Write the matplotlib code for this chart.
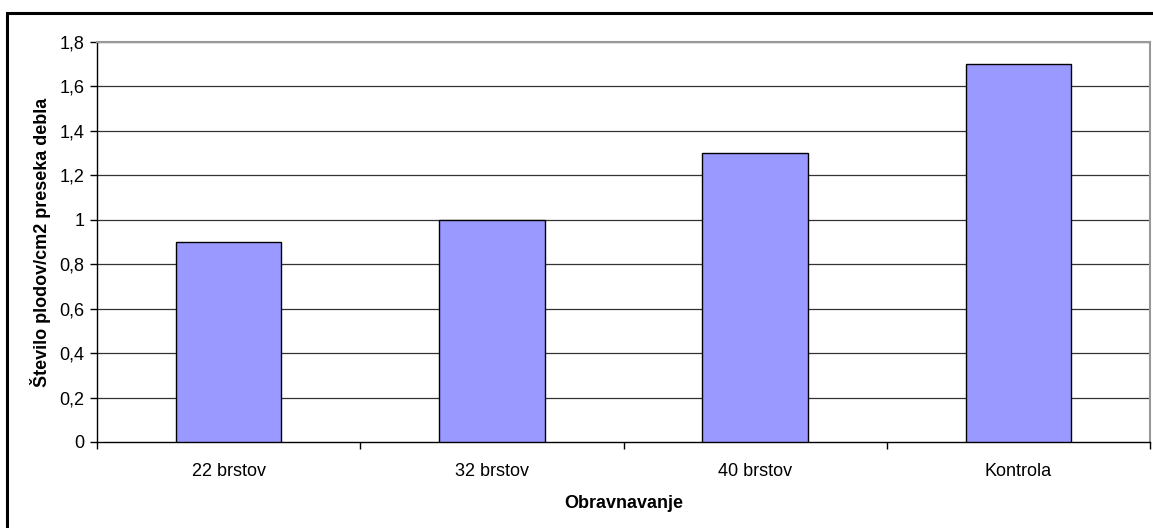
import numpy as np
import matplotlib.pyplot as plt
from matplotlib.patches import Rectangle

plt.rcParams['font.family'] = ['Liberation Sans', 'DejaVu Sans']

# Data
categories = ['22 brstov', '32 brstov', '40 brstov', 'Kontrola']
values = [0.9, 1.0, 1.3, 1.7]
yticks = [0, 0.2, 0.4, 0.6, 0.8, 1.0, 1.2, 1.4, 1.6, 1.8]
ytick_labels = ['0', '0,2', '0,4', '0,6', '0,8', '1', '1,2', '1,4', '1,6', '1,8']

W, H = 1153, 528
fig = plt.figure(figsize=(W / 100, H / 100), dpi=100)

# outer chart frame (runs past the right and bottom edges)
fig.patches.append(Rectangle((7 / W, -0.05), 1.1, 1 - 13 / H + 0.05,
                             transform=fig.transFigure, fill=False,
                             edgecolor='black', linewidth=2.2))

ax = fig.add_axes([97 / W, 1 - 442 / H, (1150 - 97) / W, (442 - 42) / H])

x = np.arange(len(categories))
ax.bar(x, values, width=0.4, color='#9999FF', edgecolor='black', linewidth=1.0, zorder=3)

ax.set_xlim(-0.5, len(categories) - 0.5)
ax.set_ylim(0, 1.8)
ax.set_yticks(yticks)
ax.set_yticklabels(ytick_labels, fontsize=13)
ax.set_xticks(x)
ax.set_xticklabels(categories, fontsize=13)
ax.tick_params(axis='x', length=0, pad=15)
ax.tick_params(axis='y', length=5, width=1, direction='out', pad=4)

# category boundary ticks below x axis
ax.set_xticks(np.arange(-0.5, len(categories)), minor=True)
ax.tick_params(axis='x', which='minor', length=5, width=1, direction='out')

for v in yticks[1:]:
    ax.axhline(v, color='#333333', linewidth=0.9, zorder=1)

for side in ['top', 'right']:
    ax.spines[side].set_color('#999999')
    ax.spines[side].set_linewidth(1.5)
for side in ['left', 'bottom']:
    ax.spines[side].set_color('black')
    ax.spines[side].set_linewidth(1.0)

ax.set_xlabel('Obravnavanje', fontsize=13, fontweight='bold', labelpad=11)
ax.set_ylabel('Število plodov/cm2 preseka debla', fontsize=13, fontweight='bold', labelpad=6)

fig.savefig('out.png', dpi=100)
